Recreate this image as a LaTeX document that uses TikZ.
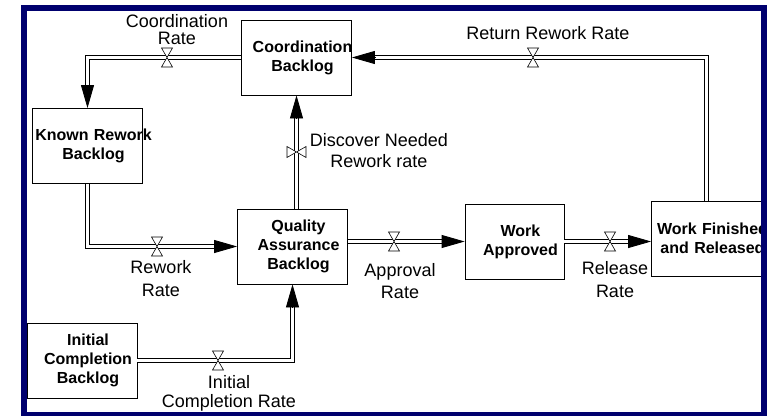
\documentclass[tikz,border=0pt]{standalone}
\usepackage{fontspec}
\setmainfont{Liberation Sans}
\usepackage{tikz}
\usepackage{xcolor}
\usetikzlibrary{positioning,arrows.meta,calc}
\definecolor{framenavy}{RGB}{0,0,110}
\newcommand{\stockline}[1]{\makebox[0pt]{\hspace*{12pt}#1}}

\begin{document}
\begin{tikzpicture}[x=1pt, y=-1pt,
    stock/.style={draw, line width=0.8pt, text width=110pt, minimum height=75pt, inner sep=0pt, align=center, font=\fontsize{16}{19}\selectfont\bfseries},
    pipe/.style={draw, line width=1pt, double, double distance=3pt},
    flowtip/.style={line width=0.8pt, -{Triangle[length=23pt,width=13pt]}},
    rate/.style={align=center, inner sep=0pt, font=\fontsize{18}{21}\selectfont},
    valve/.pic={\draw[fill=white, line width=0.6pt] (-5.5,-9.5) -- (5.5,-9.5) -- (-5.5,9.5) -- (5.5,9.5) -- cycle;}]
    \useasboundingbox (0,0) rectangle (767,415);
    \fill[white] (0,0) rectangle (767,415);

    % Stocks
    \node[stock] (cb) at (296.5,57.5) {\stockline{Coordination}\\\stockline{Backlog}};
    \node[stock] (krb) at (87.5,146) {\stockline{Known Rework}\\\stockline{Backlog}};
    \node[stock] (qab) at (292.5,246.5) {\stockline{Quality}\\\stockline{Assurance}\\\stockline{Backlog}};
    \node[stock] (icb) at (82,360.5) {\stockline{Initial}\\\stockline{Completion}\\\stockline{Backlog}};
    \node[stock, text width=99pt] (wa) at (514.5,241.5) {\stockline{Work}\\\stockline{Approved}};
    \node[stock] (wfr) at (706.5,238.5) {\stockline{Work Finished}\\\stockline{and Released}};
    \coordinate (wfrin) at (wa.east -| wfr.west);

    % Coordination rate
    \draw[pipe] (cb.west) -| ([yshift=23pt]krb.north);
    \draw[flowtip] ([yshift=23pt]krb.north) -- (krb.north);
    % Return rework rate
    \draw[pipe] (wfr.north) |- ([xshift=23pt]cb.east);
    \draw[flowtip] ([xshift=23pt]cb.east) -- (cb.east);
    % Discover needed rework rate
    \draw[pipe] (qab.north -| cb.south) -- ([yshift=-23pt]cb.south);
    \draw[flowtip] ([yshift=-23pt]cb.south) -- (cb.south);
    % Rework rate
    \draw[pipe] (krb.south) |- ([xshift=-23pt]qab.west);
    \draw[flowtip] ([xshift=-23pt]qab.west) -- (qab.west);
    % Initial completion rate
    \draw[pipe] (icb.east) -| ([yshift=-23pt]qab.south);
    \draw[flowtip] ([yshift=-23pt]qab.south) -- (qab.south);
    % Approval rate
    \draw[pipe] (qab.east |- wa.west) -- ([xshift=-23pt]wa.west);
    \draw[flowtip] ([xshift=-23pt]wa.west) -- (wa.west);
    % Release rate
    \draw[pipe] (wa.east) -- ([xshift=-23pt]wfrin);
    \draw[flowtip] ([xshift=-23pt]wfrin) -- (wfrin);

    % Valves
    \pic at (167,57.5) {valve};
    \pic at (533,57.5) {valve};
    \pic[rotate=90] at (296.5,152) {valve};
    \pic at (157,246.5) {valve};
    \pic at (218,360.5) {valve};
    \pic at (394,241.5) {valve};
    \pic at (610,241.5) {valve};

    % Rate labels
    \node[rate, font=\fontsize{18}{17}\selectfont] (crl) at (177,29.5) {Coordination\\Rate};
    \node[rate] (rrl) at (548,33) {Return Rework Rate};
    \node[rate] (dnl) at (379,150.5) {Discover Needed\\Rework rate};
    \node[rate, font=\fontsize{18}{23}\selectfont] (rwl) at (161,279) {Rework\\Rate};
    \node[rate, font=\fontsize{18}{19}\selectfont] (icl) at (229,393.5) {Initial\\Completion Rate};
    \node[rate, font=\fontsize{18}{22}\selectfont] (apl) at (400,281) {Approval\\Rate};
    \node[rate, font=\fontsize{18}{23}\selectfont] (rll) at (615,279.5) {Release\\Rate};

    % Frame
    \draw[framenavy, line width=6pt] (24,8) rectangle (764,415);
\end{tikzpicture}
\end{document}
